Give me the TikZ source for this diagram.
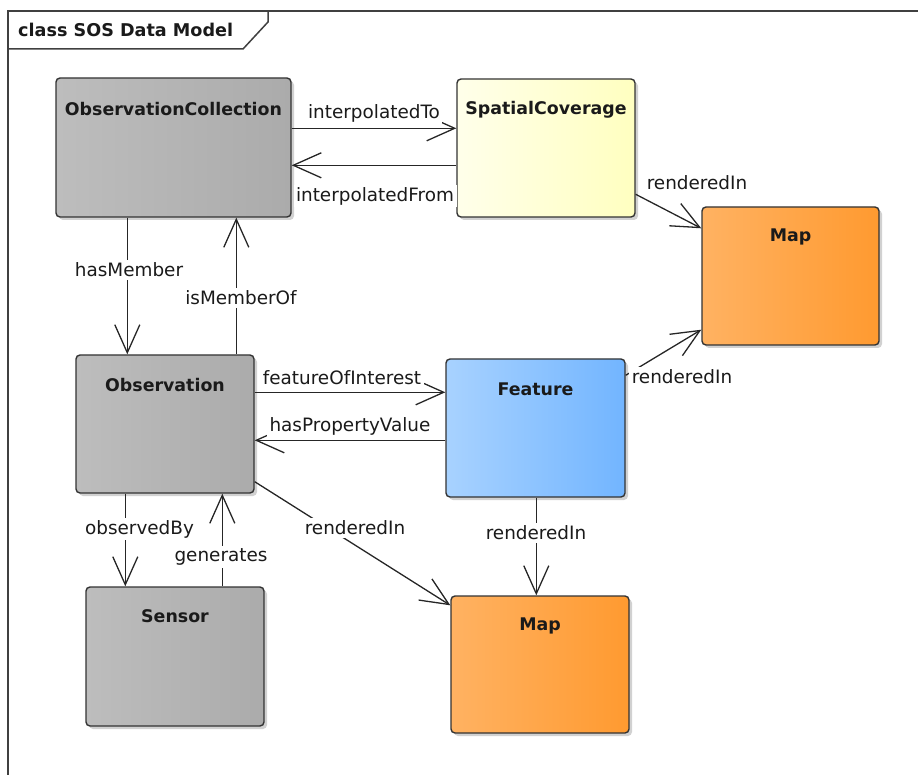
\documentclass[tikz,border=0pt]{standalone}
\usepackage{fontspec}
\setmainfont{DejaVu Sans}
\usetikzlibrary{arrows.meta,shadows}
\definecolor{edgec}{HTML}{333333}
\definecolor{txtc}{HTML}{1A1A1A}
\definecolor{grayL}{HTML}{BDBDBD}
\definecolor{grayR}{HTML}{ABABAB}
\definecolor{yelL}{HTML}{FFFFEA}
\definecolor{yelR}{HTML}{FFFFC0}
\definecolor{orL}{HTML}{FFB262}
\definecolor{orR}{HTML}{FF9A30}
\definecolor{blL}{HTML}{A8D2FF}
\definecolor{blR}{HTML}{72B5FF}
\begin{document}
\begin{tikzpicture}[x=1pt,y=-1pt,
  cls/.style={draw=edgec, line width=1.4pt, rounded corners=4pt, inner sep=0pt,
    drop shadow={shadow xshift=3pt,shadow yshift=-3pt,fill=black!18,opacity=1}},
  graybox/.style={cls,left color=grayL,right color=grayR},
  yelbox/.style={cls,left color=yelL,right color=yelR},
  orbox/.style={cls,left color=orL,right color=orR},
  blbox/.style={cls,left color=blL,right color=blR},
  ttl/.style={font=\fontsize{17.4}{21}\selectfont\bfseries, text=txtc, inner sep=0pt},
  lbl/.style={font=\fontsize{18.4}{22}\selectfont, text=txtc, fill=white, inner sep=2.5pt},
  conn/.style={draw=black!85, line width=1.3pt,
    -{Straight Barb[length=28pt,width=25pt,line width=1.3pt]}}
]
\useasboundingbox (0,0) rectangle (918,775);
% frame
\draw[draw=black!75, line width=2pt] (8,775) -- (8,11) -- (918,11);
\draw[draw=black!75, line width=1.5pt] (8,49) -- (243,49) -- (268,22) -- (268,11);
\node[anchor=west, font=\fontsize{17.6}{21}\selectfont\bfseries, text=txtc, inner sep=0pt] (hdr) at (18,30) {class SOS Data Model};

% classes
\node[graybox, minimum width=235pt, minimum height=139pt] (oc) at (173.5,147.5) {};
\node[yelbox, minimum width=178pt, minimum height=138pt] (sc) at (546,148) {};
\node[orbox, minimum width=177pt, minimum height=138pt] (map1) at (790.5,276) {};
\node[graybox, minimum width=178pt, minimum height=138pt] (obs) at (165,424) {};
\node[blbox, minimum width=179pt, minimum height=138pt] (feat) at (535.5,428) {};
\node[graybox, minimum width=178pt, minimum height=139pt] (sen) at (175,656.5) {};
\node[orbox, minimum width=178pt, minimum height=137pt] (map2) at (540,664.5) {};

\node[ttl] (oc-t) at ([yshift=-32pt]oc.north) {ObservationCollection};
\node[ttl] (sc-t) at ([yshift=-31pt]sc.north) {SpatialCoverage};
\node[ttl] (map1-t) at ([yshift=-31pt]map1.north) {Map};
\node[ttl] (obs-t) at ([yshift=-31pt]obs.north) {Observation};
\node[ttl] (feat-t) at ([yshift=-31pt]feat.north) {Feature};
\node[ttl] (sen-t) at ([yshift=-30pt]sen.north) {Sensor};
\node[ttl] (map2-t) at ([yshift=-31pt]map2.north) {Map};

% connectors
\draw[conn] ([yshift=-51pt]oc.north east) -- ([yshift=-50pt]sc.north west);
\draw[conn] ([yshift=-87pt]sc.north west) -- ([yshift=-88pt]oc.north east);
\draw[conn] ([yshift=-116pt]sc.north east) -- ([yshift=-22pt]map1.north west);
\draw[conn] ([xshift=72pt]oc.south west) -- ([xshift=52pt]obs.north west);
\draw[conn] ([xshift=161pt]obs.north west) -- ([xshift=181pt]oc.south west);
\draw[conn] ([yshift=-38pt]obs.north east) -- ([yshift=-34pt]feat.north west);
\draw[conn] ([yshift=-82pt]feat.north west) -- ([yshift=-86pt]obs.north east);
\draw[conn] ([yshift=-17pt]feat.north east) -- ([yshift=16pt]map1.south west);
\draw[conn] ([yshift=12pt]obs.south east) -- ([yshift=-10pt]map2.north west);
\draw[conn] ([xshift=50pt]obs.south west) -- ([xshift=40pt]sen.north west);
\draw[conn] ([xshift=137pt]sen.north west) -- ([xshift=147pt]obs.south west);
\draw[conn] ([xshift=91pt]feat.south west) -- ([xshift=86pt]map2.north west);

% labels
\node[lbl] (l-it) at (374,113) {interpolatedTo};
\node[lbl] (l-if) at (375,196) {interpolatedFrom};
\node[lbl] (l-r1) at (697,183) {renderedIn};
\node[lbl] (l-hm) at (129,270) {hasMember};
\node[lbl] (l-im) at (241,298) {isMemberOf};
\node[lbl] (l-fi) at (342,378) {featureOfInterest};
\node[lbl] (l-hp) at (350,426) {hasPropertyValue};
\node[lbl] (l-r2) at (682,377) {renderedIn};
\node[lbl] (l-r3) at (355,528) {renderedIn};
\node[lbl] (l-ob) at (139.5,529) {observedBy};
\node[lbl] (l-ge) at (221,557) {generates};
\node[lbl] (l-r4) at (536,533) {renderedIn};
\end{tikzpicture}
\end{document}
